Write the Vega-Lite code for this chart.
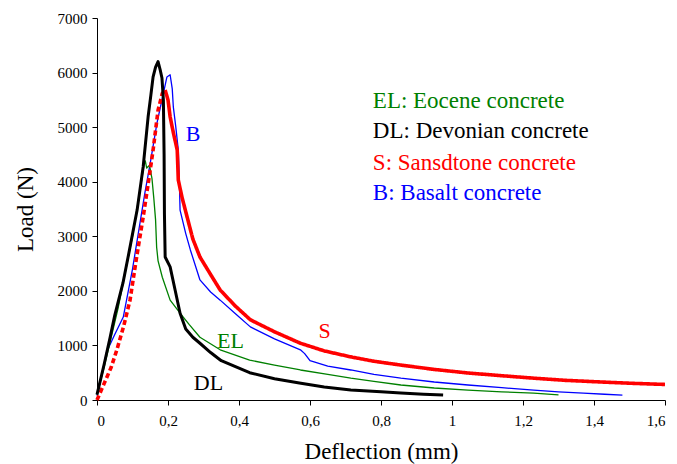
{
  "$schema": "https://vega.github.io/schema/vega-lite/v6.json",
  "width": 568,
  "height": 382,
  "autosize": {"type": "none"},
  "padding": {"left": 97, "top": 18, "right": 12, "bottom": 64},
  "background": "white",
  "config": {
    "view": {"stroke": null},
    "axis": {
      "grid": false,
      "domainColor": "#000000",
      "domainWidth": 1,
      "tickColor": "#000000",
      "tickSize": 5,
      "labelColor": "#000000",
      "labelFont": "Liberation Serif",
      "labelFontSize": 15,
      "titleFont": "Liberation Serif",
      "titleFontSize": 23,
      "titleFontWeight": "normal",
      "titleColor": "#000000"
    }
  },
  "datasets": {
    "curves": [
      {"s": "B", "d": "solid", "x": 0, "y": 80},
      {"s": "B", "d": "solid", "x": 0.015, "y": 500},
      {"s": "B", "d": "solid", "x": 0.027, "y": 880},
      {"s": "B", "d": "solid", "x": 0.05, "y": 1200},
      {"s": "B", "d": "solid", "x": 0.074, "y": 1520},
      {"s": "B", "d": "solid", "x": 0.1, "y": 2400},
      {"s": "B", "d": "solid", "x": 0.121, "y": 3240},
      {"s": "B", "d": "solid", "x": 0.135, "y": 3800},
      {"s": "B", "d": "solid", "x": 0.15, "y": 4340},
      {"s": "B", "d": "solid", "x": 0.169, "y": 5080},
      {"s": "B", "d": "solid", "x": 0.183, "y": 5500},
      {"s": "B", "d": "solid", "x": 0.197, "y": 5920},
      {"s": "B", "d": "solid", "x": 0.206, "y": 5960},
      {"s": "B", "d": "solid", "x": 0.212, "y": 5700},
      {"s": "B", "d": "solid", "x": 0.215, "y": 5370},
      {"s": "B", "d": "solid", "x": 0.222, "y": 5000},
      {"s": "B", "d": "solid", "x": 0.229, "y": 4580},
      {"s": "B", "d": "solid", "x": 0.232, "y": 4000},
      {"s": "B", "d": "solid", "x": 0.234, "y": 3480},
      {"s": "B", "d": "solid", "x": 0.25, "y": 3050},
      {"s": "B", "d": "solid", "x": 0.263, "y": 2750},
      {"s": "B", "d": "solid", "x": 0.29, "y": 2200},
      {"s": "B", "d": "solid", "x": 0.32, "y": 1980},
      {"s": "B", "d": "solid", "x": 0.347, "y": 1830},
      {"s": "B", "d": "solid", "x": 0.39, "y": 1580},
      {"s": "B", "d": "solid", "x": 0.432, "y": 1340},
      {"s": "B", "d": "solid", "x": 0.5, "y": 1120},
      {"s": "B", "d": "solid", "x": 0.573, "y": 920},
      {"s": "B", "d": "solid", "x": 0.585, "y": 850},
      {"s": "B", "d": "solid", "x": 0.6, "y": 720},
      {"s": "B", "d": "solid", "x": 0.65, "y": 620},
      {"s": "B", "d": "solid", "x": 0.715, "y": 550},
      {"s": "B", "d": "solid", "x": 0.78, "y": 470},
      {"s": "B", "d": "solid", "x": 0.856, "y": 400},
      {"s": "B", "d": "solid", "x": 0.95, "y": 330},
      {"s": "B", "d": "solid", "x": 1.045, "y": 275},
      {"s": "B", "d": "solid", "x": 1.14, "y": 225},
      {"s": "B", "d": "solid", "x": 1.23, "y": 180},
      {"s": "B", "d": "solid", "x": 1.3, "y": 150},
      {"s": "B", "d": "solid", "x": 1.37, "y": 125},
      {"s": "B", "d": "solid", "x": 1.43, "y": 105},
      {"s": "B", "d": "solid", "x": 1.48, "y": 90},

      {"s": "EL", "d": "solid", "x": 0, "y": 100},
      {"s": "EL", "d": "solid", "x": 0.02, "y": 600},
      {"s": "EL", "d": "solid", "x": 0.04, "y": 1150},
      {"s": "EL", "d": "solid", "x": 0.06, "y": 1700},
      {"s": "EL", "d": "solid", "x": 0.08, "y": 2350},
      {"s": "EL", "d": "solid", "x": 0.1, "y": 3000},
      {"s": "EL", "d": "solid", "x": 0.115, "y": 3600},
      {"s": "EL", "d": "solid", "x": 0.125, "y": 4000},
      {"s": "EL", "d": "solid", "x": 0.132, "y": 4300},
      {"s": "EL", "d": "solid", "x": 0.136, "y": 4380},
      {"s": "EL", "d": "solid", "x": 0.14, "y": 4250},
      {"s": "EL", "d": "solid", "x": 0.148, "y": 4300},
      {"s": "EL", "d": "solid", "x": 0.155, "y": 4050},
      {"s": "EL", "d": "solid", "x": 0.16, "y": 3700},
      {"s": "EL", "d": "solid", "x": 0.165, "y": 3300},
      {"s": "EL", "d": "solid", "x": 0.168, "y": 2800},
      {"s": "EL", "d": "solid", "x": 0.172, "y": 2550},
      {"s": "EL", "d": "solid", "x": 0.184, "y": 2250},
      {"s": "EL", "d": "solid", "x": 0.206, "y": 1830},
      {"s": "EL", "d": "solid", "x": 0.234, "y": 1590},
      {"s": "EL", "d": "solid", "x": 0.26, "y": 1380},
      {"s": "EL", "d": "solid", "x": 0.29, "y": 1150},
      {"s": "EL", "d": "solid", "x": 0.347, "y": 920},
      {"s": "EL", "d": "solid", "x": 0.43, "y": 730},
      {"s": "EL", "d": "solid", "x": 0.5, "y": 640},
      {"s": "EL", "d": "solid", "x": 0.573, "y": 550},
      {"s": "EL", "d": "solid", "x": 0.65, "y": 470},
      {"s": "EL", "d": "solid", "x": 0.715, "y": 400},
      {"s": "EL", "d": "solid", "x": 0.78, "y": 340},
      {"s": "EL", "d": "solid", "x": 0.856, "y": 275},
      {"s": "EL", "d": "solid", "x": 0.95, "y": 220},
      {"s": "EL", "d": "solid", "x": 1.045, "y": 180},
      {"s": "EL", "d": "solid", "x": 1.14, "y": 150},
      {"s": "EL", "d": "solid", "x": 1.23, "y": 125},
      {"s": "EL", "d": "solid", "x": 1.3, "y": 95},

      {"s": "S", "d": "dash", "x": 0, "y": 0},
      {"s": "S", "d": "dash", "x": 0.02, "y": 300},
      {"s": "S", "d": "dash", "x": 0.04, "y": 600},
      {"s": "S", "d": "dash", "x": 0.056, "y": 920},
      {"s": "S", "d": "dash", "x": 0.075, "y": 1350},
      {"s": "S", "d": "dash", "x": 0.093, "y": 1830},
      {"s": "S", "d": "dash", "x": 0.11, "y": 2550},
      {"s": "S", "d": "dash", "x": 0.13, "y": 3350},
      {"s": "S", "d": "dash", "x": 0.145, "y": 4000},
      {"s": "S", "d": "dash", "x": 0.158, "y": 4580},
      {"s": "S", "d": "dash", "x": 0.172, "y": 5310},
      {"s": "S", "d": "dash", "x": 0.184, "y": 5620},
      {"s": "S", "d": "dash", "x": 0.192, "y": 5680},
      {"s": "S", "d": "solid", "x": 0.192, "y": 5680},
      {"s": "S", "d": "solid", "x": 0.2, "y": 5500},
      {"s": "S", "d": "solid", "x": 0.206, "y": 5190},
      {"s": "S", "d": "solid", "x": 0.215, "y": 4900},
      {"s": "S", "d": "solid", "x": 0.226, "y": 4580},
      {"s": "S", "d": "solid", "x": 0.229, "y": 4030},
      {"s": "S", "d": "solid", "x": 0.24, "y": 3700},
      {"s": "S", "d": "solid", "x": 0.254, "y": 3350},
      {"s": "S", "d": "solid", "x": 0.27, "y": 2950},
      {"s": "S", "d": "solid", "x": 0.29, "y": 2620},
      {"s": "S", "d": "solid", "x": 0.32, "y": 2300},
      {"s": "S", "d": "solid", "x": 0.347, "y": 2015},
      {"s": "S", "d": "solid", "x": 0.39, "y": 1720},
      {"s": "S", "d": "solid", "x": 0.432, "y": 1470},
      {"s": "S", "d": "solid", "x": 0.5, "y": 1250},
      {"s": "S", "d": "solid", "x": 0.573, "y": 1040},
      {"s": "S", "d": "solid", "x": 0.64, "y": 900},
      {"s": "S", "d": "solid", "x": 0.715, "y": 790},
      {"s": "S", "d": "solid", "x": 0.78, "y": 710},
      {"s": "S", "d": "solid", "x": 0.856, "y": 640},
      {"s": "S", "d": "solid", "x": 0.95, "y": 560},
      {"s": "S", "d": "solid", "x": 1.045, "y": 495},
      {"s": "S", "d": "solid", "x": 1.14, "y": 445},
      {"s": "S", "d": "solid", "x": 1.23, "y": 400},
      {"s": "S", "d": "solid", "x": 1.32, "y": 360},
      {"s": "S", "d": "solid", "x": 1.42, "y": 330},
      {"s": "S", "d": "solid", "x": 1.51, "y": 305},
      {"s": "S", "d": "solid", "x": 1.6, "y": 285},

      {"s": "DL", "d": "solid", "x": 0, "y": 100},
      {"s": "DL", "d": "solid", "x": 0.02, "y": 650},
      {"s": "DL", "d": "solid", "x": 0.037, "y": 1150},
      {"s": "DL", "d": "solid", "x": 0.05, "y": 1550},
      {"s": "DL", "d": "solid", "x": 0.073, "y": 2140},
      {"s": "DL", "d": "solid", "x": 0.09, "y": 2700},
      {"s": "DL", "d": "solid", "x": 0.113, "y": 3480},
      {"s": "DL", "d": "solid", "x": 0.13, "y": 4270},
      {"s": "DL", "d": "solid", "x": 0.144, "y": 5190},
      {"s": "DL", "d": "solid", "x": 0.152, "y": 5600},
      {"s": "DL", "d": "solid", "x": 0.158, "y": 5920},
      {"s": "DL", "d": "solid", "x": 0.165, "y": 6100},
      {"s": "DL", "d": "solid", "x": 0.172, "y": 6200},
      {"s": "DL", "d": "solid", "x": 0.178, "y": 6050},
      {"s": "DL", "d": "solid", "x": 0.183, "y": 5900},
      {"s": "DL", "d": "solid", "x": 0.187, "y": 5500},
      {"s": "DL", "d": "solid", "x": 0.189, "y": 4500},
      {"s": "DL", "d": "solid", "x": 0.19, "y": 3400},
      {"s": "DL", "d": "solid", "x": 0.192, "y": 2620},
      {"s": "DL", "d": "solid", "x": 0.206, "y": 2440},
      {"s": "DL", "d": "solid", "x": 0.22, "y": 2015},
      {"s": "DL", "d": "solid", "x": 0.234, "y": 1590},
      {"s": "DL", "d": "solid", "x": 0.25, "y": 1300},
      {"s": "DL", "d": "solid", "x": 0.27, "y": 1150},
      {"s": "DL", "d": "solid", "x": 0.29, "y": 1040},
      {"s": "DL", "d": "solid", "x": 0.32, "y": 870},
      {"s": "DL", "d": "solid", "x": 0.35, "y": 720},
      {"s": "DL", "d": "solid", "x": 0.43, "y": 500},
      {"s": "DL", "d": "solid", "x": 0.5, "y": 390},
      {"s": "DL", "d": "solid", "x": 0.57, "y": 310},
      {"s": "DL", "d": "solid", "x": 0.64, "y": 240},
      {"s": "DL", "d": "solid", "x": 0.715, "y": 185},
      {"s": "DL", "d": "solid", "x": 0.8, "y": 150},
      {"s": "DL", "d": "solid", "x": 0.856, "y": 128},
      {"s": "DL", "d": "solid", "x": 0.92, "y": 105},
      {"s": "DL", "d": "solid", "x": 0.975, "y": 90}
    ],
    "legendText": [
      {"s": "EL", "t": "EL: Eocene concrete", "x": 0.777, "y": 5480},
      {"s": "DL", "t": "DL: Devonian concrete", "x": 0.777, "y": 4930},
      {"s": "S", "t": "S: Sansdtone concrete", "x": 0.777, "y": 4343},
      {"s": "B", "t": "B: Basalt concrete", "x": 0.777, "y": 3793}
    ],
    "curveLabels": [
      {"s": "B", "t": "B", "x": 0.271, "y": 4870},
      {"s": "EL", "t": "EL", "x": 0.376, "y": 1080},
      {"s": "S", "t": "S", "x": 0.641, "y": 1265},
      {"s": "DL", "t": "DL", "x": 0.314, "y": 310}
    ]
  },
  "encoding": {
    "x": {
      "field": "x",
      "type": "quantitative",
      "scale": {"domain": [0, 1.6], "nice": false},
      "axis": {
        "title": "Deflection (mm)",
        "values": [0, 0.2, 0.4, 0.6, 0.8, 1, 1.2, 1.4, 1.6],
        "labelExpr": "replace(format(datum.value, '~g'), '.', ',')",
        "labelPadding": 8,
        "titlePadding": 12
      }
    },
    "y": {
      "field": "y",
      "type": "quantitative",
      "scale": {"domain": [0, 7000], "nice": false},
      "axis": {
        "title": "Load (N)",
        "values": [0, 1000, 2000, 3000, 4000, 5000, 6000, 7000],
        "format": "d",
        "labelPadding": 5,
        "titlePadding": 20
      }
    },
    "color": {
      "field": "s",
      "type": "nominal",
      "scale": {"domain": ["EL", "B", "DL", "S"], "range": ["#008000", "#0000ff", "#000000", "#ff0000"]},
      "legend": null
    }
  },
  "layer": [
    {
      "data": {"name": "curves"},
      "transform": [{"filter": "datum.s == 'B' || datum.s == 'EL'"}],
      "mark": {"type": "line", "strokeJoin": "round", "strokeWidth": 1.3}
    },
    {
      "data": {"name": "curves"},
      "transform": [{"filter": "datum.s == 'S'"}],
      "mark": {"type": "line", "strokeJoin": "round", "strokeWidth": 3.6},
      "encoding": {
        "strokeDash": {
          "field": "d",
          "type": "nominal",
          "scale": {"domain": ["solid", "dash"], "range": [[1, 0], [5, 3]]},
          "legend": null
        }
      }
    },
    {
      "data": {"name": "curves"},
      "transform": [{"filter": "datum.s == 'DL'"}],
      "mark": {"type": "line", "strokeJoin": "round", "strokeWidth": 3}
    },
    {
      "data": {"name": "legendText"},
      "mark": {"type": "text", "align": "left", "baseline": "middle", "font": "Liberation Serif", "fontSize": 23},
      "encoding": {"text": {"field": "t", "type": "nominal"}}
    },
    {
      "data": {"name": "curveLabels"},
      "mark": {"type": "text", "align": "center", "baseline": "middle", "font": "Liberation Serif", "fontSize": 22},
      "encoding": {"text": {"field": "t", "type": "nominal"}}
    }
  ]
}
